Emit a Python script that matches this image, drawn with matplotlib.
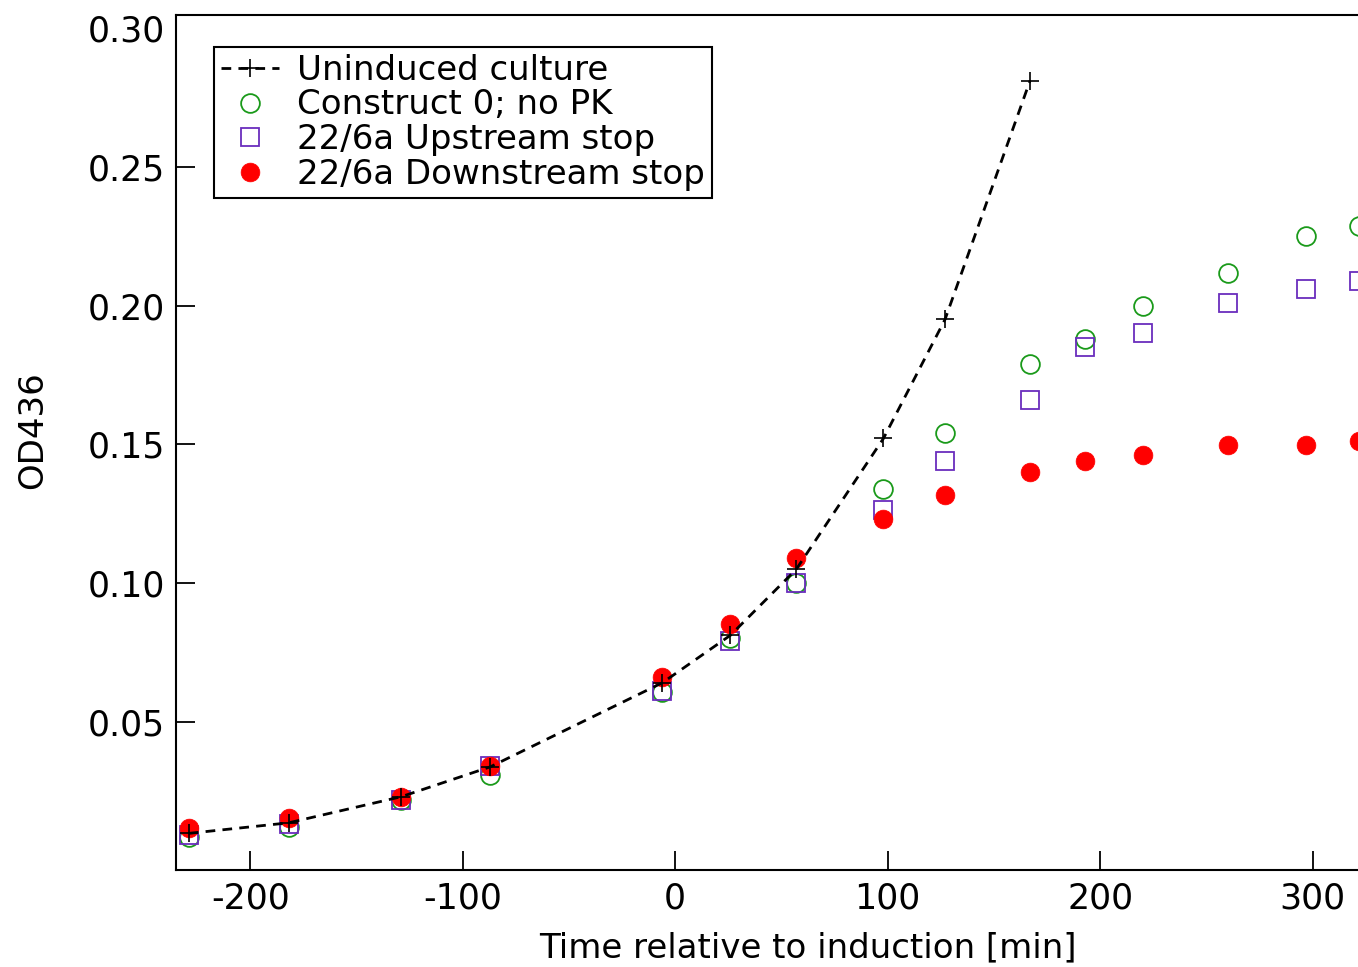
import matplotlib
matplotlib.use("Agg")
import matplotlib.pyplot as plt

# time points [min] relative to induction
t_uninduced = [-229, -182, -129, -87, -6, 26, 57, 98, 127, 167]
t_induced = [-229, -182, -129, -87, -6, 26, 57, 98, 127, 167, 193, 220, 260, 297, 322]

# OD436 readings
od_uninduced = [0.0098, 0.0136, 0.0230, 0.0338, 0.0641, 0.0812, 0.1050, 0.1521, 0.1950, 0.2810]
od_construct0 = [0.0086, 0.0122, 0.0218, 0.0308, 0.0608, 0.0801, 0.1000, 0.1340, 0.1540,
                 0.1790, 0.1880, 0.2000, 0.2119, 0.2250, 0.2288]
od_upstream = [0.0092, 0.0131, 0.0220, 0.0340, 0.0610, 0.0791, 0.1000, 0.1262, 0.1441,
               0.1660, 0.1850, 0.1900, 0.2011, 0.2060, 0.2090]
od_downstream = [0.0116, 0.0152, 0.0230, 0.0340, 0.0662, 0.0851, 0.1092, 0.1230, 0.1318,
                 0.1399, 0.1441, 0.1460, 0.1499, 0.1499, 0.1511]

labels = ["Uninduced culture", "Construct 0; no PK", "22/6a Upstream stop", "22/6a Downstream stop"]
xticks = [-200, -100, 0, 100, 200, 300]
yticks = [0.05, 0.10, 0.15, 0.20, 0.25, 0.30]

plt.rcParams["font.family"] = ["DejaVu Sans"]
fs = 24.5

fig = plt.figure(figsize=(13.58, 9.67), dpi=100)
# original plot area runs past the right edge of the picture
ax = fig.add_axes([0.1296, 0.1003, 0.9308, 0.8839])

ms = 13.5
ax.plot(t_uninduced, od_uninduced, color="black", linestyle=(0, (3.5, 2.6)), lw=2,
        marker="+", ms=ms, mew=1.2, label=labels[0], zorder=5)
ax.plot(t_induced, od_construct0, linestyle="none", marker="o", ms=ms, mfc="none",
        mec="#1a9a1a", mew=1.3, label=labels[1], zorder=3)
ax.plot(t_induced, od_upstream, linestyle="none", marker="s", ms=ms * 0.95, mfc="none",
        mec="#6a2dbd", mew=1.3, label=labels[2], zorder=3)
ax.plot(t_induced, od_downstream, linestyle="none", marker="o", ms=ms, mfc="red",
        mec="red", mew=0.5, label=labels[3], zorder=4)

ax.set_xlim(-235, 360)
ax.set_ylim(-0.0034, 0.3046)
ax.set_xticks(xticks)
ax.set_xticklabels([str(v) for v in xticks])
ax.set_yticks(yticks)
ax.set_yticklabels(["%.2f" % v for v in yticks])
ax.tick_params(direction="in", length=13.5, width=1.3, pad=8, labelsize=25)
# no tick mark at 0.30, only the label
ax.yaxis.get_major_ticks()[-1].tick1line.set_visible(False)
for s in ax.spines.values():
    s.set_linewidth(1.5)

ax.set_xlabel("Time relative to induction [min]", fontsize=fs, labelpad=12)
ax.set_ylabel("OD436", fontsize=fs)
ax.yaxis.set_label_coords(-0.100, 0.515)

leg = ax.legend(loc="upper left", bbox_to_anchor=(0.030, 0.963), borderaxespad=0,
                fancybox=False, framealpha=1, edgecolor="black", handlelength=1.7,
                handletextpad=0.55, borderpad=0.2, labelspacing=0.05, fontsize=fs)
leg.get_frame().set_linewidth(1.5)

fig.savefig("out.png", dpi=100)
